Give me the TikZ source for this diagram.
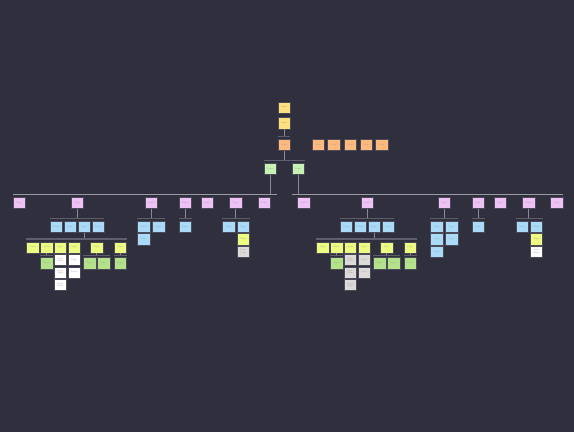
\documentclass[tikz,border=0pt]{standalone}
\usetikzlibrary{shadows,calc}
\definecolor{bg}{HTML}{2F2F3E}
\definecolor{cyellow}{HTML}{FFE07E}
\definecolor{corange}{HTML}{FFB97F}
\definecolor{cgreen}{HTML}{C7F2B3}
\definecolor{cpurple}{HTML}{EEC2F5}
\definecolor{cblue}{HTML}{A9DBF8}
\definecolor{clime}{HTML}{EDFB83}
\definecolor{cgreentwo}{HTML}{B4E28A}
\definecolor{nwhite}{HTML}{FFFFFF}
\definecolor{ngray}{HTML}{DEDADA}
\definecolor{clink}{HTML}{8A8A96}
\definecolor{cbar}{HTML}{5E5E6C}
\definecolor{cmain}{HTML}{9A9AA6}
\definecolor{cedge}{HTML}{4A4A58}
\begin{document}
\begin{tikzpicture}[x=1pt,y=-1pt,
  box/.style={draw=cedge,line width=0.6pt,minimum width=12.2pt,minimum height=11.2pt,inner sep=0pt,
    font=\fontsize{1.9}{2.2}\selectfont,text=black!45,align=center},
  yel/.style={box,fill=cyellow},
  ora/.style={box,fill=corange},
  grn/.style={box,fill=cgreen},
  pur/.style={box,fill=cpurple},
  blu/.style={box,fill=cblue},
  lim/.style={box,fill=clime},
  grt/.style={box,fill=cgreentwo},
  wht/.style={box,fill=nwhite},
  gry/.style={box,fill=ngray},
  link/.style={draw=clink,line width=1pt},
  bar/.style={draw=cbar,line width=1.6pt},
  mainbar/.style={draw=cmain,line width=0.9pt}]
\path[fill=bg] (0,0) rectangle (574,432);

% top
\node[yel] (y1) at (284,107.5) {Topic};
\node[yel] (y2) at (284,123.3) {Topic};
\node[ora] (o0) at (284,145) {Topic};
\node[ora] (f1) at (318.2,145) {Topic};
\node[ora] (f2) at (333.7,145) {Topic};
\node[ora] (f3) at (350.3,145) {Topic};
\node[ora] (f4) at (366.3,145) {Topic};
\node[ora] (f5) at (381.7,145) {Topic};
\node[grn] (g1) at (270.2,168.8) {Topic};
\node[grn] (g2) at (298.3,168.8) {Topic};

% purples
\foreach \i/\x in {1/19,2/77.3,3/151.3,4/185.3,5/207,6/235.7,7/264}
  \node[pur] (Lp\i) at (\x,202.8) {Topic};
\foreach \i/\x in {1/303.7,2/367.3,3/444.3,4/478.3,5/500,6/528.8,7/556.8}
  \node[pur] (Rp\i) at (\x,202.8) {Topic};

% top connectors
\coordinate (ob) at ([yshift=2.6pt]o0.north west);
\draw[link] (y2.south) -- (y2.south |- ob);
\draw[bar] (ob) -- (ob -| o0.north east);
\coordinate (gb) at ([yshift=2.6pt]g1.north west);
\draw[link] (o0.south) -- (o0.south |- gb);
\draw[bar] (gb) -- (gb -| g2.north east);
\coordinate (lb) at ([yshift=2.6pt]Lp1.north west);
\draw[mainbar] (lb) -- (lb -| g1.east);
\draw[link] (g1.south) -- (g1.south |- lb);
\coordinate (rb) at ([yshift=2.6pt]Rp1.north west);
\draw[mainbar] (rb -| g2.west) -- (rb -| Rp7.north east);
\draw[link] (g2.south) -- (g2.south |- rb);

% big subtrees
\foreach \pre/\dx/\wc in {L/0/wht,R/290/gry}{
  \node[blu] (\pre b1) at (56.3+\dx,226.8) {Topic};
  \node[blu] (\pre b2) at (70.3+\dx,226.8) {Topic};
  \node[blu] (\pre b3) at (84.2+\dx,226.8) {Topic};
  \node[blu] (\pre b4) at (98+\dx,226.8) {Topic};
  \node[lim] (\pre l1) at (32.8+\dx,247.5) {Topic};
  \node[lim] (\pre l2) at (46.7+\dx,247.5) {Topic};
  \node[lim] (\pre l3) at (60.5+\dx,247.5) {Topic};
  \node[lim] (\pre l4) at (74.2+\dx,247.5) {Topic};
  \node[lim] (\pre l5) at (96.7+\dx,247.5) {Topic};
  \node[lim] (\pre l6) at (120.3+\dx,247.5) {Topic};
  \node[grt] (\pre g1) at (46.7+\dx,263.3) {Topic};
  \node[grt] (\pre g2) at (89.7+\dx,263.3) {Topic};
  \node[grt] (\pre g3) at (103.7+\dx,263.3) {Topic};
  \node[grt] (\pre g4) at (120.3+\dx,263.3) {Topic};
  \node[\wc] (\pre w1) at (60.5+\dx,260) {Topic\\Topic};
  \node[\wc] (\pre w2) at (60.5+\dx,272.4) {Topic\\Topic};
  \node[\wc] (\pre w3) at (60.5+\dx,284.8) {Topic\\Topic};
  \node[\wc] (\pre w4) at (74.2+\dx,260) {Topic};
  \node[\wc] (\pre w5) at (74.2+\dx,272.4) {Topic};
  \coordinate (\pre bb) at ([yshift=2.6pt]\pre b1.north west);
  \draw[link] (\pre p2.south) -- (\pre p2.south |- \pre bb);
  \draw[bar] (\pre bb) -- (\pre bb -| \pre b4.north east);
  \coordinate (\pre lb) at ([yshift=2.6pt]\pre l1.north west);
  \draw[link] (\pre b3.south) -- (\pre b3.south |- \pre lb);
  \draw[bar] (\pre lb) -- (\pre lb -| \pre l6.north east);
  \coordinate (\pre gb1) at ([yshift=2pt]\pre g1.north west);
  \draw[link] (\pre l2.south) -- (\pre l2.south |- \pre gb1);
  \draw[bar] (\pre gb1) -- (\pre gb1 -| \pre g1.north east);
  \coordinate (\pre gb2) at ([yshift=2pt]\pre g2.north west);
  \draw[link] (\pre l5.south) -- (\pre l5.south |- \pre gb2);
  \draw[bar] (\pre gb2) -- (\pre gb2 -| \pre g3.north east);
  \coordinate (\pre gb4) at ([yshift=2pt]\pre g4.north west);
  \draw[link] (\pre l6.south) -- (\pre l6.south |- \pre gb4);
  \draw[bar] (\pre gb4) -- (\pre gb4 -| \pre g4.north east);
}

% left small subtrees
\node[blu] (Lc1) at (143.7,226.8) {Topic};
\node[blu] (Lc2) at (158.8,226.8) {Topic};
\node[blu] (Lc3) at (143.7,239.2) {Topic};
\coordinate (Lcb) at ([yshift=2.6pt]Lc1.north west);
\draw[link] (Lp3.south) -- (Lp3.south |- Lcb);
\draw[bar] (Lcb) -- (Lcb -| Lc2.north east);

\node[blu] (Ld1) at (185.3,226.8) {Topic};
\coordinate (Ldb) at ([yshift=2.6pt]Ld1.north west);
\draw[link] (Lp4.south) -- (Lp4.south |- Ldb);
\draw[bar] (Ldb) -- (Ldb -| Ld1.north east);

\node[blu] (Le1) at (228.8,226.8) {Topic};
\node[blu] (Le2) at (243.3,226.8) {Topic};
\node[lim] (Le3) at (243.3,239.2) {Topic};
\node[gry] (Le4) at (243.3,251.6) {Topic\\Topic};
\coordinate (Leb) at ([yshift=2.6pt]Le1.north west);
\draw[link] (Lp6.south) -- (Lp6.south |- Leb);
\draw[bar] (Leb) -- (Leb -| Le2.north east);

% right small subtrees
\node[blu] (Rc1) at (436.8,226.8) {Topic};
\node[blu] (Rc2) at (451.8,226.8) {Topic};
\node[blu] (Rc3) at (436.8,239.2) {Topic};
\node[blu] (Rc4) at (436.8,251.6) {Topic};
\node[blu] (Rc5) at (451.8,239.2) {Topic};
\coordinate (Rcb) at ([yshift=2.6pt]Rc1.north west);
\draw[link] (Rp3.south) -- (Rp3.south |- Rcb);
\draw[bar] (Rcb) -- (Rcb -| Rc2.north east);

\node[blu] (Rd1) at (478.3,226.8) {Topic};
\coordinate (Rdb) at ([yshift=2.6pt]Rd1.north west);
\draw[link] (Rp4.south) -- (Rp4.south |- Rdb);
\draw[bar] (Rdb) -- (Rdb -| Rd1.north east);

\node[blu] (Re1) at (522.2,226.8) {Topic};
\node[blu] (Re2) at (536.5,226.8) {Topic};
\node[lim] (Re3) at (536.5,239.2) {Topic};
\node[wht] (Re4) at (536.5,251.6) {Topic\\Topic};
\coordinate (Reb) at ([yshift=2.6pt]Re1.north west);
\draw[link] (Rp6.south) -- (Rp6.south |- Reb);
\draw[bar] (Reb) -- (Reb -| Re2.north east);
\end{tikzpicture}
\end{document}
